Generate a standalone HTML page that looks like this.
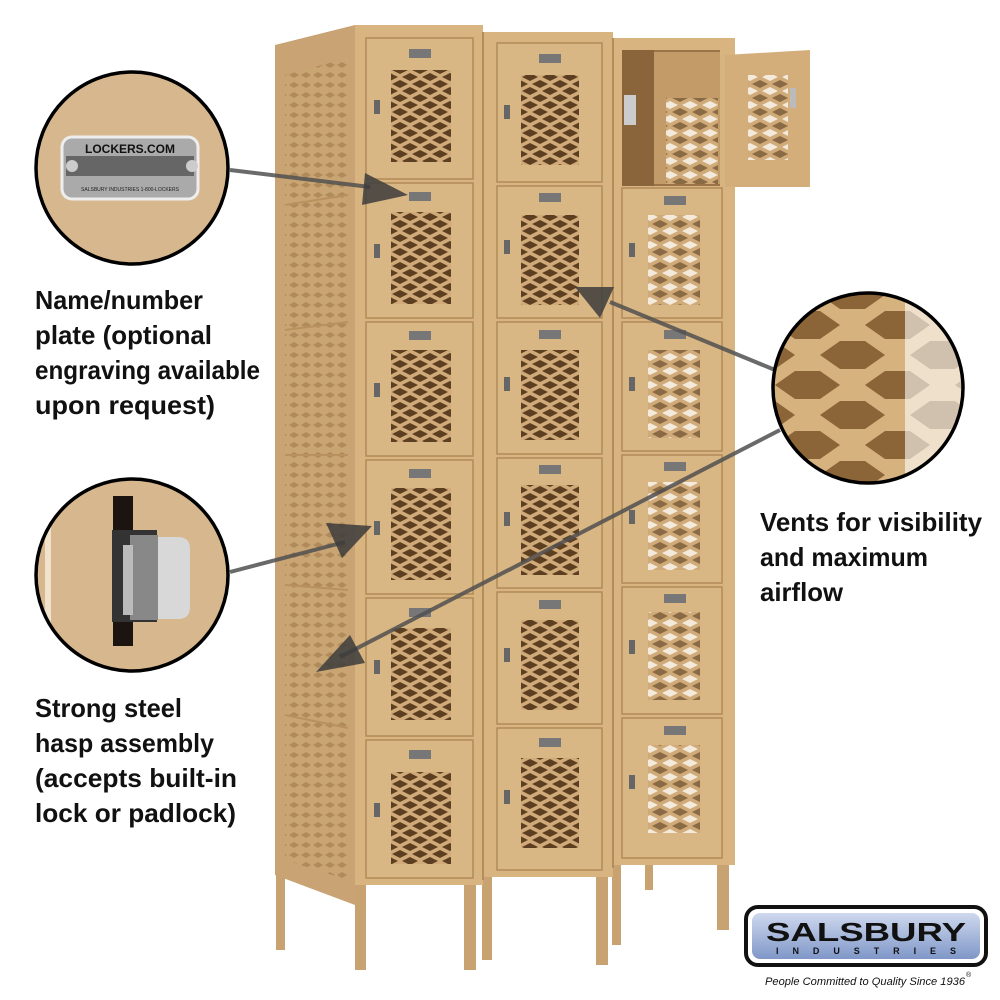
<!DOCTYPE html>
<html><head><meta charset="utf-8"><style>
html,body{margin:0;padding:0;background:#fff;width:1000px;height:1000px;overflow:hidden}
svg{display:block}
.t{font-family:"Liberation Sans",sans-serif;font-weight:bold;font-size:26px;fill:#111}
</style></head><body>
<svg width="1000" height="1000" viewBox="0 0 1000 1000" xmlns="http://www.w3.org/2000/svg">
<defs>
<pattern id="v" width="20" height="14" patternUnits="userSpaceOnUse">
<rect width="20" height="14" fill="#d0aa78"/>
<polygon points="2,7 10,3 18,7 10,11" fill="#5c3e20"/>
<polygon points="-8,0 0,-4 8,0 0,4" fill="#5c3e20"/>
<polygon points="12,0 20,-4 28,0 20,4" fill="#5c3e20"/>
<polygon points="-8,14 0,10 8,14 0,18" fill="#5c3e20"/>
<polygon points="12,14 20,10 28,14 20,18" fill="#5c3e20"/>
</pattern>
<pattern id="vl" width="20" height="14" patternUnits="userSpaceOnUse">
<rect width="20" height="14" fill="#d0aa78"/>
<polygon points="2,7 10,3 18,7 10,11" fill="#f3eadc"/>
<polygon points="-8,0 0,-4 8,0 0,4" fill="#8a6a44"/>
<polygon points="12,0 20,-4 28,0 20,4" fill="#8a6a44"/>
<polygon points="-8,14 0,10 8,14 0,18" fill="#8a6a44"/>
<polygon points="12,14 20,10 28,14 20,18" fill="#8a6a44"/>
</pattern>
<pattern id="side" width="12" height="10" patternUnits="userSpaceOnUse">
<rect width="12" height="10" fill="#caa574"/>
<polygon points="1,5 6,2 11,5 6,8" fill="#b08a5a"/>
</pattern>
<pattern id="big" width="90" height="60" patternUnits="userSpaceOnUse" x="770" y="295">
<rect width="90" height="60" fill="#d6b27e"/>
<polygon points="5,30 25,16 50,16 70,30 50,44 25,44" fill="#8b6437"/>
<polygon points="-40,0 -20,-14 5,-14 25,0 5,14 -20,14" fill="#8b6437"/>
<polygon points="50,0 70,-14 95,-14 115,0 95,14 70,14" fill="#8b6437"/>
<polygon points="-40,60 -20,46 5,46 25,60 5,74 -20,74" fill="#8b6437"/>
<polygon points="50,60 70,46 95,46 115,60 95,74 70,74" fill="#8b6437"/>
</pattern>
<clipPath id="c3"><circle cx="868" cy="388" r="95"/></clipPath>
<clipPath id="c2"><circle cx="132" cy="575" r="96"/></clipPath>
<linearGradient id="lg" x1="0" y1="0" x2="0" y2="1"><stop offset="0" stop-color="#cfd9ee"/><stop offset="1" stop-color="#7f97c8"/></linearGradient>
</defs>

<g fill="#c9a271">
<rect x="276" y="870" width="9" height="80"/>
<rect x="355" y="875" width="11" height="95"/>
<rect x="464" y="875" width="12" height="95"/>
<rect x="482" y="870" width="10" height="90"/>
<rect x="596" y="865" width="12" height="100"/>
<rect x="612" y="860" width="9" height="85"/>
<rect x="717" y="855" width="12" height="75"/>
<rect x="645" y="860" width="8" height="30"/>
</g>
<polygon points="275,45 355,25 355,905 275,875" fill="#c9a373"/>
<polygon points="285,75 348,58 348,880 285,860" fill="url(#side)"/>
<g stroke="#b8915f" stroke-width="2">
<line x1="285" y1="205" x2="348" y2="195"/><line x1="285" y1="330" x2="348" y2="322"/>
<line x1="285" y1="455" x2="348" y2="455"/><line x1="285" y1="585" x2="348" y2="590"/>
<line x1="285" y1="715" x2="348" y2="728"/>
</g>
<rect x="355" y="25" width="128" height="860" fill="#d8b480"/>
<rect x="483" y="32" width="130" height="845" fill="#d8b480"/>
<rect x="613" y="38" width="122" height="827" fill="#d8b480"/>
<line x1="483" y1="32" x2="483" y2="880" stroke="#b48d5c" stroke-width="2"/>
<line x1="613" y1="38" x2="613" y2="868" stroke="#b48d5c" stroke-width="2"/>

<rect x="622" y="50" width="98" height="136" fill="#9a7447"/>
<rect x="654" y="52" width="66" height="132" fill="#c39b68"/>
<rect x="666" y="98" width="52" height="86" fill="url(#vl)"/>
<rect x="622" y="50" width="32" height="136" fill="#8a653b"/>
<rect x="624" y="95" width="12" height="30" fill="#ccc"/>
<polygon points="725,55 810,50 810,187 725,187" fill="#d4ae7a"/>
<rect x="748" y="75" width="40" height="85" fill="url(#vl)"/>
<rect x="790" y="88" width="6" height="20" fill="#bbb"/>

<g fill="#d9b784" stroke="#b18a58" stroke-width="1.5">
<rect x="366" y="38" width="107" height="141"/><rect x="366" y="183" width="107" height="135"/>
<rect x="366" y="322" width="107" height="134"/><rect x="366" y="460" width="107" height="134"/>
<rect x="366" y="598" width="107" height="138"/><rect x="366" y="740" width="107" height="138"/>
<rect x="497" y="43" width="105" height="139"/><rect x="497" y="186" width="105" height="132"/>
<rect x="497" y="322" width="105" height="132"/><rect x="497" y="458" width="105" height="130"/>
<rect x="497" y="592" width="105" height="132"/><rect x="497" y="728" width="105" height="142"/>
<rect x="622" y="188" width="100" height="130"/><rect x="622" y="322" width="100" height="129"/>
<rect x="622" y="455" width="100" height="128"/><rect x="622" y="587" width="100" height="127"/>
<rect x="622" y="718" width="100" height="140"/>
</g>
<g>
<rect x="391" y="70" width="60" height="92" fill="url(#v)"/><rect x="391" y="212" width="60" height="92" fill="url(#v)"/>
<rect x="391" y="350" width="60" height="92" fill="url(#v)"/><rect x="391" y="488" width="60" height="92" fill="url(#v)"/>
<rect x="391" y="628" width="60" height="92" fill="url(#v)"/><rect x="391" y="772" width="60" height="92" fill="url(#v)"/>
<rect x="521" y="75" width="58" height="90" fill="url(#v)"/><rect x="521" y="215" width="58" height="90" fill="url(#v)"/>
<rect x="521" y="350" width="58" height="90" fill="url(#v)"/><rect x="521" y="485" width="58" height="90" fill="url(#v)"/>
<rect x="521" y="620" width="58" height="90" fill="url(#v)"/><rect x="521" y="758" width="58" height="90" fill="url(#v)"/>
<rect x="648" y="215" width="52" height="90" fill="url(#vl)"/><rect x="648" y="350" width="52" height="88" fill="url(#vl)"/>
<rect x="648" y="482" width="52" height="88" fill="url(#vl)"/><rect x="648" y="612" width="52" height="88" fill="url(#vl)"/>
<rect x="648" y="745" width="52" height="88" fill="url(#vl)"/>
</g>
<g fill="#777">
<rect x="409" y="49" width="22" height="9"/><rect x="409" y="192" width="22" height="9"/>
<rect x="409" y="331" width="22" height="9"/><rect x="409" y="469" width="22" height="9"/>
<rect x="409" y="608" width="22" height="9"/><rect x="409" y="750" width="22" height="9"/>
<rect x="539" y="54" width="22" height="9"/><rect x="539" y="193" width="22" height="9"/>
<rect x="539" y="330" width="22" height="9"/><rect x="539" y="465" width="22" height="9"/>
<rect x="539" y="600" width="22" height="9"/><rect x="539" y="738" width="22" height="9"/>
<rect x="664" y="196" width="22" height="9"/><rect x="664" y="330" width="22" height="9"/>
<rect x="664" y="462" width="22" height="9"/><rect x="664" y="594" width="22" height="9"/>
<rect x="664" y="726" width="22" height="9"/>
</g>
<g fill="#666">
<rect x="374" y="100" width="6" height="14"/><rect x="374" y="244" width="6" height="14"/>
<rect x="374" y="383" width="6" height="14"/><rect x="374" y="521" width="6" height="14"/>
<rect x="374" y="660" width="6" height="14"/><rect x="374" y="803" width="6" height="14"/>
<rect x="504" y="105" width="6" height="14"/><rect x="504" y="240" width="6" height="14"/>
<rect x="504" y="377" width="6" height="14"/><rect x="504" y="512" width="6" height="14"/>
<rect x="504" y="648" width="6" height="14"/><rect x="504" y="790" width="6" height="14"/>
<rect x="629" y="243" width="6" height="14"/><rect x="629" y="377" width="6" height="14"/>
<rect x="629" y="510" width="6" height="14"/><rect x="629" y="640" width="6" height="14"/>
<rect x="629" y="775" width="6" height="14"/>
</g>

<g stroke="#505050" stroke-width="4" fill="none" opacity="0.85">
<line x1="230" y1="170" x2="370" y2="187"/>
<line x1="230" y1="572" x2="345" y2="542"/>
<line x1="775" y1="370" x2="610" y2="302"/>
<line x1="780" y1="430" x2="340" y2="657"/>
</g>
<g fill="#3c3c3c" opacity="0.85">
<polygon points="365,173 408,195 362,205"/>
<polygon points="326,523 372,526 342,558"/>
<polygon points="614,287 575,287 600,318"/>
<polygon points="350,635 316,672 365,663"/>
</g>

<circle cx="132" cy="168" r="96" fill="#d7b78d" stroke="#000" stroke-width="3.5"/>
<rect x="62" y="137" width="136" height="62" rx="10" fill="#aaa" stroke="#eee" stroke-width="3"/>
<rect x="66" y="156" width="128" height="20" fill="#666"/>
<circle cx="72" cy="166" r="6" fill="#ccc"/><circle cx="192" cy="166" r="6" fill="#ccc"/>
<text x="130" y="153" text-anchor="middle" font-family="Liberation Sans,sans-serif" font-size="12" font-weight="bold" fill="#111">LOCKERS.COM</text>
<text x="130" y="191" text-anchor="middle" font-family="Liberation Sans,sans-serif" font-size="5" fill="#222">SALSBURY INDUSTRIES     1-800-LOCKERS</text>

<circle cx="132" cy="575" r="96" fill="#d7b78d"/>
<g clip-path="url(#c2)">
<rect x="45" y="480" width="6" height="200" fill="#f0e2cc"/>
<rect x="113" y="496" width="20" height="150" fill="#1c1410"/>
<rect x="112" y="530" width="45" height="92" fill="#333"/>
<rect x="130" y="535" width="28" height="85" fill="#888"/>
<path d="M158,537 h20 q12,0 12,12 v58 q0,12 -12,12 h-20z" fill="#d8d8d8"/>
<rect x="123" y="545" width="10" height="70" fill="#bbb"/>
</g>
<circle cx="132" cy="575" r="96" fill="none" stroke="#000" stroke-width="3.5"/>

<circle cx="868" cy="388" r="95" fill="url(#big)"/>
<g clip-path="url(#c3)"><rect x="905" y="290" width="60" height="200" fill="#fff" opacity="0.6"/></g>
<circle cx="868" cy="388" r="95" fill="none" stroke="#000" stroke-width="3.5"/>

<g class="t">
<text x="35" y="309" textLength="168" lengthAdjust="spacingAndGlyphs">Name/number</text>
<text x="35" y="344" textLength="177" lengthAdjust="spacingAndGlyphs">plate (optional</text>
<text x="35" y="379" textLength="225" lengthAdjust="spacingAndGlyphs">engraving available</text>
<text x="35" y="414" textLength="180" lengthAdjust="spacingAndGlyphs">upon request)</text>
<text x="35" y="717" textLength="147" lengthAdjust="spacingAndGlyphs">Strong steel</text>
<text x="35" y="752" textLength="179" lengthAdjust="spacingAndGlyphs">hasp assembly</text>
<text x="35" y="787" textLength="202" lengthAdjust="spacingAndGlyphs">(accepts built-in</text>
<text x="35" y="822" textLength="201" lengthAdjust="spacingAndGlyphs">lock or padlock)</text>
<text x="760" y="531" textLength="222" lengthAdjust="spacingAndGlyphs">Vents for visibility</text>
<text x="760" y="566" textLength="168" lengthAdjust="spacingAndGlyphs">and maximum</text>
<text x="760" y="601" textLength="83" lengthAdjust="spacingAndGlyphs">airflow</text>
</g>

<rect x="746" y="907" width="240" height="58" rx="12" fill="#fff" stroke="#111" stroke-width="4"/>
<rect x="752" y="913" width="228" height="46" rx="8" fill="url(#lg)"/>
<text x="866" y="941" text-anchor="middle" font-family="Liberation Sans,sans-serif" font-weight="bold" font-size="26" fill="#111" textLength="200" lengthAdjust="spacingAndGlyphs">SALSBURY</text>
<text x="866" y="954" text-anchor="middle" font-family="Liberation Sans,sans-serif" font-weight="bold" font-size="9" fill="#111" textLength="180" lengthAdjust="spacing">INDUSTRIES</text>
<text x="765" y="985" font-family="Liberation Sans,sans-serif" font-style="italic" font-size="11" fill="#111" textLength="200" lengthAdjust="spacingAndGlyphs">People Committed to Quality Since 1936</text>
<text x="966" y="977" font-family="Liberation Sans,sans-serif" font-size="7" fill="#111">®</text>
</svg>
</body></html>
